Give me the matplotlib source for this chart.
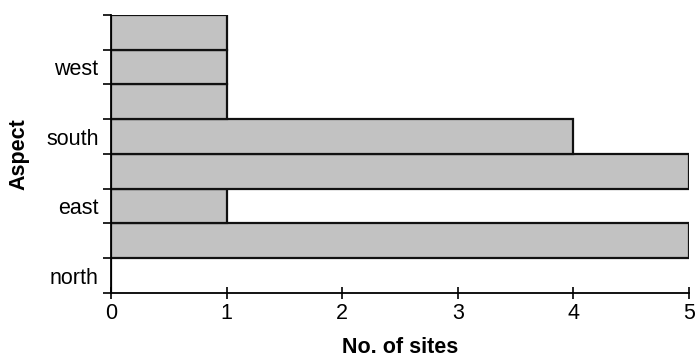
import numpy as np
import matplotlib.pyplot as plt

plt.rcParams['font.family'] = ['Liberation Sans', 'DejaVu Sans']

# aspect classes, bottom to top (north, NE, east, SE, south, SW, west, NW)
aspects = ['N', 'NE', 'E', 'SE', 'S', 'SW', 'W', 'NW']
sites = [0, 5, 1, 5, 4, 1, 1, 1]
label_pos = [0, 2, 4, 6]
label_names = ['north', 'east', 'south', 'west']

fig = plt.figure(figsize=(6.96, 3.58), dpi=100)
ax = fig.add_axes([0.1595, 0.1816, 0.8305, 0.7765])

y = np.arange(len(aspects)) + 0.5
ax.barh(y, sites, height=1.0, color='#c2c2c2', edgecolor='#111111', linewidth=1.6)

ax.set_xlim(0, 5)
ax.set_ylim(0, len(aspects))
ax.set_xticks(range(6))
ax.set_yticks(np.arange(len(aspects) + 1))
ax.set_yticklabels([])
ax.set_yticks(np.array(label_pos) + 0.5, minor=True)
ax.set_yticklabels(label_names, minor=True)
ax.tick_params(axis='y', which='minor', length=0, pad=9, labelsize=15.5)
ax.tick_params(axis='y', which='major', length=6, width=1.2, direction='out')
ax.tick_params(axis='x', length=9, width=1.2, direction='inout', labelsize=15.5, pad=3)

for s in ['top', 'right']:
    ax.spines[s].set_visible(False)
ax.spines['left'].set_linewidth(1.3)
ax.spines['bottom'].set_linewidth(1.3)

ax.set_xlabel('No. of sites', fontsize=15.5, fontweight='bold', labelpad=9)
ax.set_ylabel('Aspect', fontsize=15.5, fontweight='bold', labelpad=12)

fig.savefig('out.png', dpi=100)
